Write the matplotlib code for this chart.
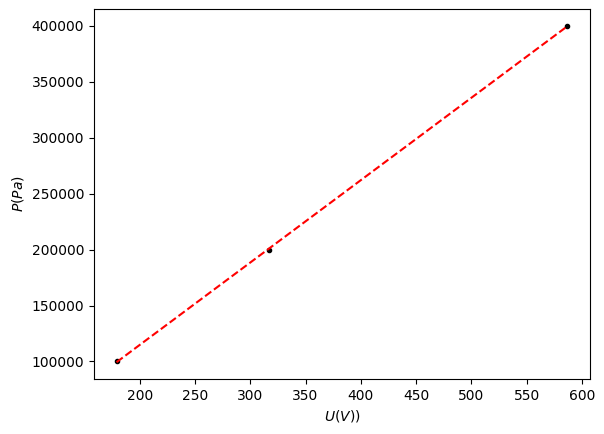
import matplotlib

matplotlib.use("Agg")
import matplotlib.pyplot as plt
import numpy as np

# measured voltage (V) and pressure (Pa)
voltage = np.array([179.0, 317.0, 587.0])
pressure = np.array([100000.0, 200000.0, 400000.0])

# linear fit P = a*U + b
a, b = np.polyfit(voltage, pressure, 1)

fig = plt.figure(figsize=(6.04, 4.34), dpi=100)
ax = fig.add_axes([94 / 604, 1 - 379 / 434, 496 / 604, 370 / 434])
ax.plot(voltage, pressure, "k.")
ax.plot(voltage, a * voltage + b, "r--")
ax.set_xlabel("$U(V))$")
ax.set_ylabel("$P(Pa)$")
fig.savefig("out.png", dpi=100)
